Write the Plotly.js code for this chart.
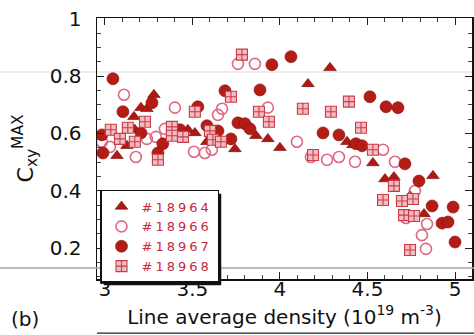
<!DOCTYPE html>
<html>
<head>
<meta charset="utf-8">
<script src="https://cdn.plot.ly/plotly-3.0.1.min.js"></script>
<style>
html,body{margin:0;padding:0;background:#fff;}
#chart{width:474px;height:335px;}
.legendtext{letter-spacing:3px;}
</style>
</head>
<body>
<div id="chart"></div>
<script>
// Series names
const seriesNames = ['#18964', '#18966', '#18967', '#18968'];

// #18964 (filled triangles)
const x18964 = [3.28, 3.206, 3.24, 3.166, 3.171, 3.126, 3.069, 3.474, 3.514, 3.583, 3.743, 3.863, 3.931, 4.0, 4.286, 4.16, 4.383, 4.417, 4.531, 4.6, 4.651, 4.743, 4.874, 4.823];
const y18964 = [0.735, 0.690, 0.686, 0.658, 0.613, 0.557, 0.522, 0.613, 0.602, 0.571, 0.546, 0.592, 0.581, 0.550, 0.829, 0.773, 0.571, 0.560, 0.497, 0.441, 0.448, 0.382, 0.452, 0.319];

// #18966 (open circles)
const x18966 = [3.76, 3.857, 3.109, 3.4, 3.931, 3.669, 3.646, 3.343, 3.291, 3.24, 2.983, 3.029, 3.177, 3.509, 3.571, 3.611, 4.097, 4.177, 4.269, 4.337, 4.429, 4.589, 4.657, 4.771, 4.72, 4.84, 4.811, 4.834];
const y18966 = [0.843, 0.843, 0.735, 0.690, 0.690, 0.686, 0.665, 0.616, 0.588, 0.581, 0.571, 0.553, 0.518, 0.536, 0.532, 0.543, 0.571, 0.518, 0.508, 0.518, 0.501, 0.543, 0.501, 0.399, 0.305, 0.284, 0.245, 0.197];

// #18967 (filled circles)
const x18967 = [3.046, 3.269, 3.103, 3.531, 3.686, 3.886, 3.954, 4.063, 3.76, 3.8, 3.829, 2.983, 3.206, 3.429, 3.583, 3.646, 3.72, 3.331, 2.989, 3.303, 4.246, 4.337, 4.514, 4.606, 4.674, 4.434, 4.469, 4.714, 4.794, 4.869, 4.989, 4.926, 4.96, 5.0];
const y18967 = [0.791, 0.707, 0.676, 0.693, 0.749, 0.752, 0.840, 0.868, 0.637, 0.634, 0.616, 0.595, 0.602, 0.613, 0.627, 0.609, 0.581, 0.564, 0.532, 0.532, 0.602, 0.595, 0.728, 0.693, 0.690, 0.564, 0.557, 0.494, 0.434, 0.347, 0.343, 0.287, 0.291, 0.221];

// #18968 (hatched squares)
const x18968 = [3.783, 3.72, 3.88, 3.514, 3.229, 3.131, 3.034, 3.383, 3.086, 3.171, 3.446, 3.383, 3.6, 3.617, 3.663, 3.303, 3.937, 4.131, 4.291, 4.394, 4.463, 4.189, 4.531, 4.651, 4.589, 4.697, 4.76, 4.709, 4.766, 4.743];
const y18968 = [0.875, 0.728, 0.676, 0.676, 0.641, 0.620, 0.613, 0.623, 0.581, 0.571, 0.588, 0.592, 0.609, 0.578, 0.571, 0.508, 0.641, 0.686, 0.676, 0.711, 0.620, 0.525, 0.543, 0.417, 0.368, 0.364, 0.371, 0.315, 0.312, 0.193];

const xTickVals = [3, 3.5, 4, 4.5, 5];
const xTickText = ['3', '3.5', '4', '4.5', '5'];
const yTickVals = [0.2, 0.4, 0.6, 0.8, 1];
const yTickText = ['0.2', '0.4', '0.6', '0.8', '1'];

const FONT = 'DejaVu Sans, Arial, sans-serif';

const traces = [
  {x: x18964, y: y18964, name: seriesNames[0], mode: 'markers', type: 'scatter',
   marker: {symbol: 'triangle-up', size: 11, color: 'rgb(175,25,20)', line: {color: 'rgb(115,10,10)', width: 0.6}}},
  {x: x18966, y: y18966, name: seriesNames[1], mode: 'markers', type: 'scatter',
   marker: {symbol: 'circle-open', size: 11, color: 'rgb(222,105,130)', line: {width: 1.6}}},
  {x: x18967, y: y18967, name: seriesNames[2], mode: 'markers', type: 'scatter',
   marker: {symbol: 'circle', size: 12, color: 'rgb(180,28,22)', line: {color: 'rgb(135,12,12)', width: 0.6}}},
  {x: x18968, y: y18968, name: seriesNames[3], mode: 'markers', type: 'scatter',
   marker: {symbol: 'square-cross', size: 11, color: 'rgb(243,188,193)', line: {color: 'rgb(200,60,72)', width: 1.1}}}
];

const layout = {
  width: 474, height: 335,
  margin: {l: 97, r: 2, t: 18, b: 56, pad: 0},
  paper_bgcolor: '#fff', plot_bgcolor: '#fff',
  font: {family: FONT, color: '#111'},
  showlegend: true,
  xaxis: {
    range: [2.955, 5.097], tickvals: xTickVals, ticktext: xTickText,
    ticks: 'inside', ticklen: 7, tickwidth: 1, tickcolor: '#222',
    minor: {dtick: 0.1, tick0: 0, ticks: 'inside', ticklen: 4, tickcolor: '#444'},
    showline: true, linecolor: '#111', linewidth: 1.5, mirror: 'allticks',
    showgrid: false, zeroline: false,
    tickfont: {family: FONT, size: 20, color: '#111'},
    ticklabelstandoff: -9,
    title: {text: 'Line average density (10<sup>19</sup> m<sup>-3</sup>)', font: {family: FONT, size: 20, color: '#111'}, standoff: 10},
    automargin: false
  },
  yaxis: {
    range: [0.092, 1.003], tickvals: yTickVals, ticktext: yTickText,
    ticks: 'inside', ticklen: 7, tickwidth: 1, tickcolor: '#222',
    minor: {dtick: 0.05, tick0: 0, ticks: 'inside', ticklen: 4, tickcolor: '#444'},
    showline: true, linecolor: '#111', linewidth: 1.5, mirror: 'allticks',
    showgrid: false, zeroline: false,
    tickfont: {family: FONT, size: 20, color: '#111'},
    ticklabelstandoff: 10,
    title: {text: 'C<sub>xy</sub><sup>MAX</sup>', font: {family: FONT, size: 22, color: '#111'}, standoff: 10},
    automargin: false
  },
  legend: {
    x: 0.008, y: 0.341, xanchor: 'left', yanchor: 'top',
    bgcolor: '#fff', bordercolor: '#111', borderwidth: 1.5,
    font: {family: FONT, size: 13, color: 'rgb(200,40,60)'},
    tracegroupgap: 0, itemwidth: 30
  },
  shapes: [
    {type: 'line', xref: 'paper', yref: 'paper', x0: -0.26, x1: 1.01, y0: 0.042, y1: 0.042,
     line: {color: 'rgba(170,170,170,0.8)', width: 2}, layer: 'above'},
    {type: 'line', xref: 'paper', yref: 'paper', x0: -0.26, x1: 1.01, y0: 0.793, y1: 0.793,
     line: {color: 'rgba(200,200,200,0.35)', width: 2}, layer: 'below'},
    {type: 'line', xref: 'paper', yref: 'paper', x0: 0.0, x1: 1.01, y0: -0.207, y1: -0.207,
     line: {color: '#222', width: 1.2}, layer: 'above'}
  ],
  annotations: [
    {text: '(b)', xref: 'paper', yref: 'paper', x: -0.235, y: -0.155, xanchor: 'left', yanchor: 'middle',
     showarrow: false, font: {family: FONT, size: 20, color: '#111'}}
  ]
};

const gd = document.getElementById('chart');
Plotly.newPlot(gd, traces, layout, {displayModeBar: false, staticPlot: true});

// drop shadow behind the legend box, derived from the rendered legend
(function addShadow() {
  const bg = gd.querySelector('.legend .bg');
  if (!bg) return;
  const bb = bg.getBBox();
  const s = gd._fullLayout._size;
  const tr = gd.querySelector('g.legend').getAttribute('transform') || '';
  const m = tr.match(/translate\(\s*([-\d.]+)[ ,]+([-\d.]+)/);
  if (!m) return;
  const lx = parseFloat(m[1]) + bb.x, ly = parseFloat(m[2]) + bb.y;
  const off = 3;
  const px = v => (v - s.l) / s.w;
  const py = v => 1 - (v - s.t) / s.h;
  const shapes = gd.layout.shapes.slice();
  shapes.push({type: 'rect', xref: 'paper', yref: 'paper',
    x0: px(lx + off), x1: px(lx + bb.width + off), y0: py(ly + bb.height + off), y1: py(ly + off),
    fillcolor: '#111', line: {width: 0}, layer: 'above'});
  Plotly.relayout(gd, {shapes: shapes});
})();
</script>
</body>
</html>
